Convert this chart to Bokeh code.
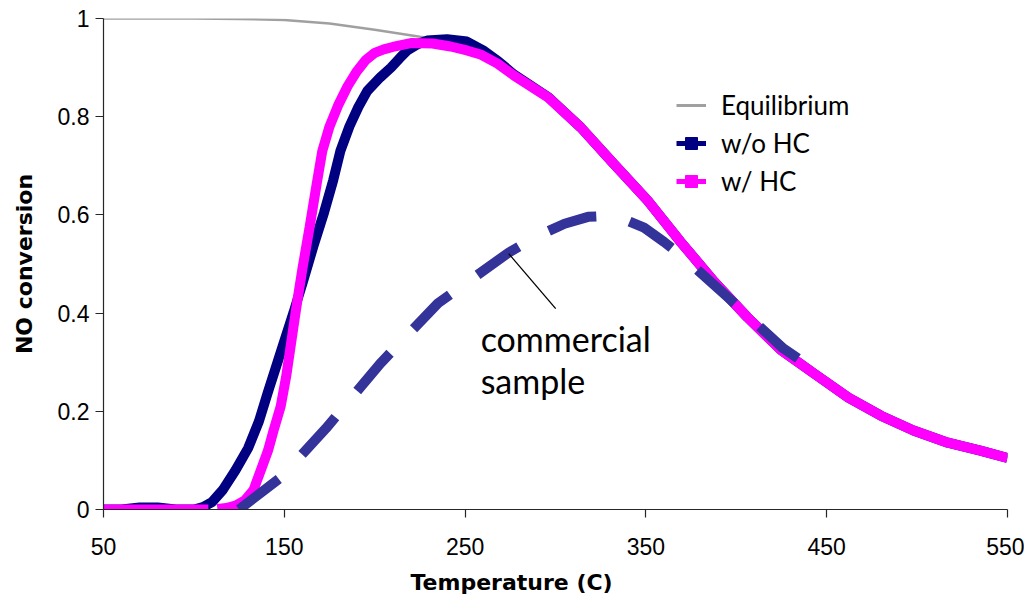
from bokeh.plotting import figure
from bokeh.models import Range1d, FixedTicker, Legend, LegendItem, Label, ColumnDataSource, Title
from bokeh.embed import file_html
from bokeh.resources import INLINE
import numpy as np

# ---------------- data ----------------
eq_temp = [50, 75, 100, 125, 150, 175, 200, 225, 240, 260, 277, 296, 314, 332, 351, 369,
           388, 406, 425, 443, 462, 480, 498, 517, 535, 550]
eq_conv = [1.0, 1.0, 1.0, 0.999, 0.997, 0.990, 0.977, 0.963, 0.955, 0.935, 0.886, 0.84,
           0.778, 0.705, 0.629, 0.546, 0.463, 0.392, 0.324, 0.277, 0.228, 0.191, 0.161,
           0.136, 0.12, 0.105]

wo_temp = [50, 60, 70, 80, 90, 100, 105, 110, 116, 123, 130, 136, 141, 148, 155, 160, 166,
           172, 177, 181, 186, 191, 196, 203, 209, 214, 218, 224, 229, 240, 251, 260, 268,
           277, 296, 314, 332, 351, 369, 388, 406, 425, 443, 462, 480, 498, 517, 535, 550]
wo_conv = [0, 0, 0.004, 0.004, 0, 0, 0.005, 0.015, 0.04, 0.08, 0.125, 0.18, 0.24, 0.32,
           0.40, 0.46, 0.535, 0.605, 0.67, 0.73, 0.78, 0.82, 0.853, 0.88, 0.90, 0.92, 0.935,
           0.948, 0.955, 0.958, 0.953, 0.935, 0.914, 0.886, 0.84, 0.778, 0.705, 0.629, 0.546,
           0.463, 0.392, 0.324, 0.277, 0.228, 0.191, 0.161, 0.136, 0.12, 0.105]

w_temp = [50, 108, np.nan, 113, 118, 123, 128, 133, 137, 141, 144, 148, 151, 154, 157, 160,
          164, 168, 171, 175, 180, 185, 190, 195, 200, 205, 210, 220, 232, 242, 251, 259,
          268, 277, 296, 314, 332, 351, 369, 388, 406, 425, 443, 462, 480, 498, 517, 535, 550]
w_conv = [0, 0, np.nan, 0.001, 0.003, 0.008, 0.018, 0.04, 0.08, 0.12, 0.16, 0.21, 0.27,
          0.345, 0.42, 0.49, 0.575, 0.665, 0.73, 0.78, 0.825, 0.862, 0.892, 0.915, 0.93,
          0.937, 0.942, 0.95, 0.949, 0.943, 0.935, 0.926, 0.908, 0.884, 0.839, 0.778, 0.705,
          0.629, 0.546, 0.463, 0.392, 0.324, 0.277, 0.228, 0.191, 0.161, 0.136, 0.12, 0.105]

com_temp = [125, 148, 173, 203, 235, 274, 290, 305, 318, 329, 340, 349, 360, 371, 396, 426, 438]
com_conv = [0, 0.065, 0.165, 0.297, 0.42, 0.523, 0.557, 0.582, 0.596, 0.598, 0.588, 0.574,
            0.545, 0.513, 0.43, 0.328, 0.298]

x_ticks = [50, 150, 250, 350, 450, 550]
y_ticks = [0, 0.2, 0.4, 0.6, 0.8, 1.0]
y_tick_labels = {0: "0", 0.2: "0.2", 0.4: "0.4", 0.6: "0.6", 0.8: "0.8", 1.0: "1"}

series_labels = ["Equilibrium", "w/o HC", "w/ HC"]
note_lines = ["commercial", "sample"]
# annotation leader line (data coords)
leader_x = [274.1, 300.1]
leader_y = [0.521, 0.409]

# ---------------- figure ----------------
p = figure(width=1024, height=604, output_backend="svg", toolbar_location=None,
           x_range=Range1d(50, 550), y_range=Range1d(0, 1),
           min_border_left=103, min_border_right=17, min_border_top=18, min_border_bottom=95)
p.outline_line_color = None
p.xgrid.visible = False
p.ygrid.visible = False
p.background_fill_color = "white"
p.border_fill_color = "white"

axis_col = "#262626"
for ax in (p.xaxis[0], p.yaxis[0]):
    ax.axis_line_color = axis_col
    ax.axis_line_width = 1.2
    ax.major_tick_line_color = axis_col
    ax.major_tick_line_width = 1.2
    ax.major_tick_in = 0
    ax.major_tick_out = 8
    ax.minor_tick_line_color = None
    ax.major_label_text_font = "Liberation Sans"
    ax.major_label_text_font_size = "23px"
    ax.major_label_text_color = "black"

p.xaxis.ticker = FixedTicker(ticks=x_ticks)
p.yaxis.ticker = FixedTicker(ticks=y_ticks)
p.yaxis.major_label_overrides = y_tick_labels
p.xaxis.major_label_standoff = 20
p.yaxis.major_label_standoff = 6

p.yaxis.axis_label = "NO conversion"
p.yaxis.axis_label_text_font = "DejaVu Sans"
p.yaxis.axis_label_text_font_style = "bold"
p.yaxis.axis_label_text_font_size = "22px"
p.yaxis.axis_label_text_color = "black"
p.yaxis.axis_label_standoff = 18

# ---------------- series ----------------
r_eq = p.line(eq_temp, eq_conv, line_color="#A0A0A0", line_width=2.5)
r_wo = p.line(wo_temp, wo_conv, line_color="#000080", line_width=10)
r_w = p.line(w_temp, w_conv, line_color="#FF00FF", line_width=10)
r_com = p.line(com_temp, com_conv, line_color="#333399", line_width=10, line_dash="50 34")

# leader line + note
p.line(leader_x, leader_y, line_color="black", line_width=1.3)
p.add_layout(Label(x=258.6, y=0.349, text=note_lines[0], text_font="Lato",
                   text_font_size="34px", text_color="black", text_baseline="alphabetic"))
p.add_layout(Label(x=258.6, y=0.263, text=note_lines[1], text_font="Lato",
                   text_font_size="34px", text_color="black", text_baseline="alphabetic"))

# x axis title, placed left of centre as in the reference
p.add_layout(Title(text="Temperature (C)", align="left", offset=307, standoff=20,
                   text_font="DejaVu Sans", text_font_style="bold",
                   text_font_size="22px", text_color="black"), "below")

# ---------------- legend (off-range renderers for thinner legend glyphs) ----------------
dummy = ColumnDataSource(data=dict(x=[-1000, -999], y=[-5, -5]))
lg_eq = p.line("x", "y", source=dummy, line_color="#A0A0A0", line_width=3)
lg_wo_l = p.line("x", "y", source=dummy, line_color="#000080", line_width=5)
lg_wo_m = p.scatter("x", "y", source=dummy, marker="square", size=10,
                    fill_color="#000080", line_color="#000080")
lg_w_l = p.line("x", "y", source=dummy, line_color="#FF00FF", line_width=5)
lg_w_m = p.scatter("x", "y", source=dummy, marker="square", size=10,
                   fill_color="#FF00FF", line_color="#FF00FF")

legend = Legend(items=[
    LegendItem(label=series_labels[0], renderers=[lg_eq]),
    LegendItem(label=series_labels[1], renderers=[lg_wo_l, lg_wo_m]),
    LegendItem(label=series_labels[2], renderers=[lg_w_l, lg_w_m]),
], location=(573, 309))
legend.border_line_color = None
legend.background_fill_alpha = 0
legend.padding = 0
legend.margin = 0
legend.spacing = 0
legend.glyph_width = 30
legend.glyph_height = 38
legend.label_height = 38
legend.label_standoff = 15
legend.label_text_font = "Lato"
legend.label_text_font_size = "26px"
legend.label_text_color = "black"
p.add_layout(legend, "center")

with open("out.html", "w") as f:
    f.write(file_html(p, INLINE))
